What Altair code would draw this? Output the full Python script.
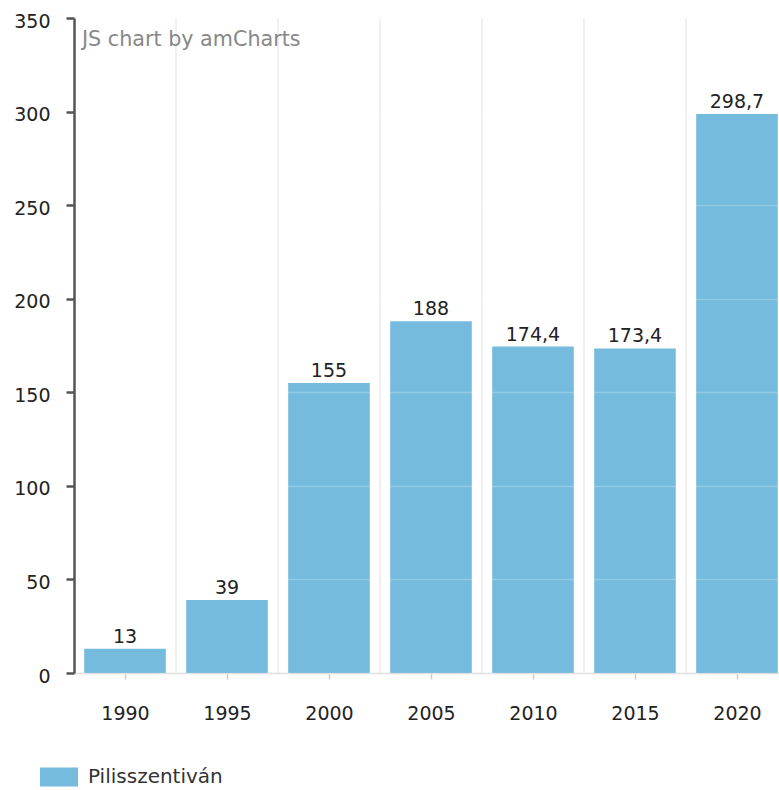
import altair as alt
import pandas as pd

years = [1990, 1995, 2000, 2005, 2010, 2015, 2020]
values = [13, 39, 155, 188, 174.4, 173.4, 298.7]
series_name = "Pilisszentiván"
watermark = "JS chart by amCharts"
y_ticks = [0, 50, 100, 150, 200, 250, 300, 350]

df = pd.DataFrame({"year": years, "value": values, "series": [series_name] * len(years)})

W, H = 705, 655
FONT = "DejaVu Sans"
FS = 19
FS_TXT = 20
BAR = "#74bbdd"

xscale = alt.Scale(domain=[1987.5, 2022.06], nice=False, zero=False)
yscale = alt.Scale(domain=[0, 350], nice=False)

xaxis = alt.Axis(values=years, format="d", title=None, grid=False, orient="bottom",
                 domainColor="#d9d9d9", domainWidth=1.5,
                 tickColor="#cccccc", tickSize=6, tickWidth=1.5,
                 labelPadding=25, labelFont=FONT, labelFontSize=FS,
                 labelColor="#222222")
yaxis = alt.Axis(values=y_ticks, title=None, grid=True,
                 gridColor="#ffffff", gridOpacity=0.22, gridWidth=1.5,
                 domainColor="#555555", domainWidth=2.5,
                 tickColor="#555555", tickWidth=2.5, tickSize=8,
                 labelPadding=16, labelOffset=3, labelFont=FONT, labelFontSize=FS,
                 labelColor="#222222", zindex=1)

base = alt.Chart(df)

grid = base.transform_calculate(b="datum.year + 2.5").mark_rule(
    color="#ebebeb", strokeWidth=1.5, clip=True
).encode(
    x=alt.X("b:Q", scale=xscale, axis=xaxis),
    y=alt.value(0),
    y2=alt.value(H),
)

bars = base.transform_calculate(x0="datum.year - 2", x1="datum.year + 2").mark_bar(
    color=BAR, clip=True
).encode(
    x=alt.X("x0:Q", scale=xscale, axis=xaxis),
    x2="x1:Q",
    y=alt.Y("value:Q", scale=yscale, axis=yaxis),
    y2=alt.datum(0),
    color=alt.Color("series:N", scale=alt.Scale(range=[BAR]),
                    legend=alt.Legend(title=None, orient="none", legendX=-34, legendY=740,
                                      symbolType="M-1,-0.5H1V0.5H-1Z", symbolSize=1444,
                                      symbolStrokeWidth=0, symbolOpacity=1,
                                      labelFont=FONT, labelFontSize=FS_TXT, labelColor="#333333",
                                      labelOffset=10)),
)

labels = base.transform_calculate(lab="replace(toString(datum.value), '.', ',')").mark_text(
    font=FONT, fontSize=FS, color="#222222", baseline="alphabetic", dy=-6
).encode(
    x=alt.X("year:Q", scale=xscale, axis=xaxis),
    y=alt.Y("value:Q", scale=yscale, axis=yaxis),
    text="lab:N",
)

wm = alt.Chart(pd.DataFrame({"t": [watermark]})).mark_text(
    font=FONT, fontSize=20.7, color="#888888", align="left", baseline="middle"
).encode(x=alt.value(8), y=alt.value(22), text="t:N")

chart = alt.layer(grid, bars, labels, wm).properties(
    width=W, height=H,
    autosize=alt.AutoSizeParams(type="none"),
    padding={"left": 74, "top": 18, "right": 0, "bottom": 117},
    background="white",
).configure_view(stroke=None)

chart.save("out.html", embed_options={"renderer": "svg", "actions": False})
